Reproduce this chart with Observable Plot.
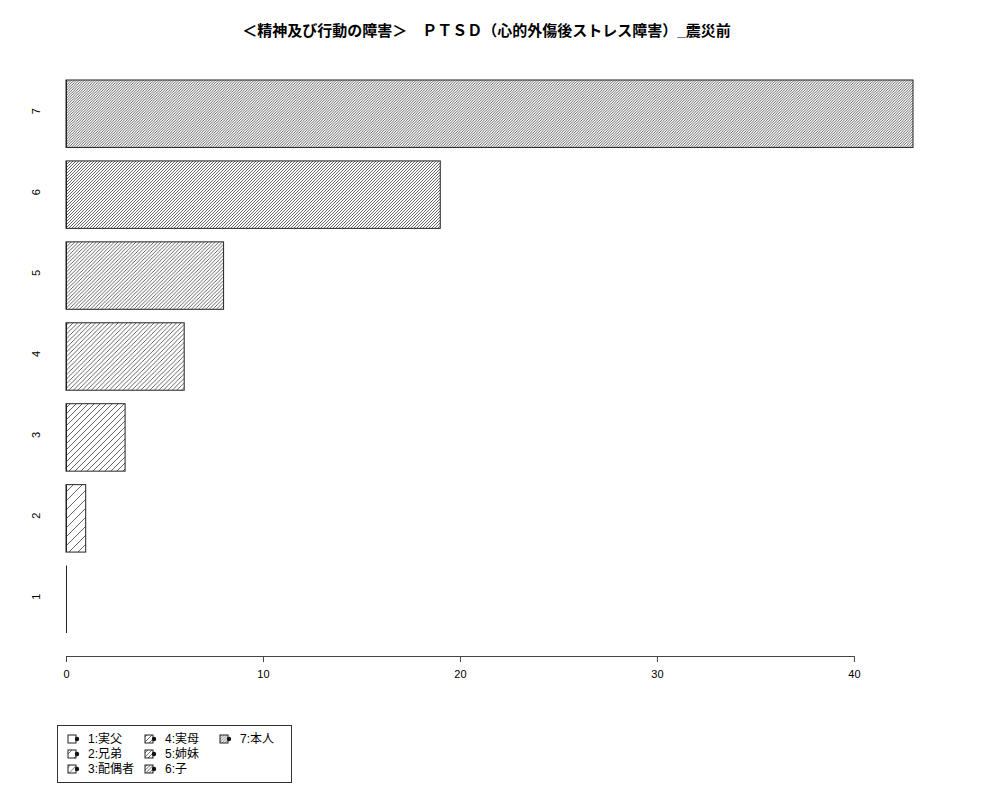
<!DOCTYPE html>
<html>
<head>
<meta charset="utf-8">
<script src="https://cdn.jsdelivr.net/npm/d3@7"></script>
<script src="https://cdn.jsdelivr.net/npm/@observablehq/plot@0.6"></script>
<style>
  body { margin: 0; background: #fff; font-family: "Liberation Sans", "Noto Sans CJK JP", sans-serif; }
  #wrap { position: relative; width: 1000px; height: 800px; }
  #title { position: absolute; top: 19px; left: 0; width: 973px; text-align: center; font-weight: bold; font-size: 15px; font-family: "Liberation Sans", "Noto Sans CJK JP", sans-serif; }
  #chart { position: absolute; top: 0; left: 0; }
  #legend { position: absolute; left: 57px; top: 725px; }
</style>
</head>
<body>
<div id="wrap">
  <div id="chart"></div>
  <div id="title"></div>
  <div id="legend"></div>
</div>
<script>
const titleText = "＜精神及び行動の障害＞　ＰＴＳＤ（心的外傷後ストレス障害）_震災前";
const categories = ["1", "2", "3", "4", "5", "6", "7"];
const values = [0, 1, 3, 6, 8, 19, 43];
const legendLabels = ["1:実父", "2:兄弟", "3:配偶者", "4:実母", "5:姉妹", "6:子", "7:本人"];
const xTicks = [0, 10, 20, 30, 40];
const densities = [1, 2, 3, 4, 5, 6, 7];

const data = categories.map((c, i) => ({cat: c, value: values[i], density: densities[i]}));

document.getElementById("title").textContent = titleText;

const font = "Liberation Sans, Noto Sans CJK JP, sans-serif";

const plot = Plot.plot({
  width: 1000,
  height: 700,
  marginLeft: 66,
  marginRight: 87,
  marginTop: 80,
  marginBottom: 44,
  style: {fontFamily: font, fontSize: "11px", background: "white"},
  x: {domain: [0, 43], axis: null},
  y: {domain: categories.slice().reverse(), range: [80, 633], paddingInner: 0.1667, paddingOuter: 0, round: false, axis: null},
  color: {type: "identity"},
  marks: [
    Plot.barX(data, {x: "value", y: "cat", fill: d => `url(#hatch${d.density})`, stroke: "#222", strokeWidth: 1}),
    Plot.tickX(data, {x: d => 0, y: "cat", stroke: "#222", strokeWidth: 1}),
    Plot.text(data, {y: "cat", text: "cat", frameAnchor: "left", dx: -30, rotate: -90, fontSize: 11, fill: "black"}),
    Plot.axisX({ticks: xTicks, tickSize: 6, tickPadding: 8, fontSize: 11, stroke: "#444", label: null, tickFormat: d => String(d)}),
    (index, scales, values, dimensions) => {
      const y = dimensions.height - dimensions.marginBottom + 0.5;
      const g = d3.create("svg:line")
        .attr("x1", scales.x(xTicks[0]))
        .attr("x2", scales.x(xTicks[xTicks.length - 1]))
        .attr("y1", y).attr("y2", y)
        .attr("stroke", "#444").attr("stroke-width", 1);
      return g.node();
    }
  ]
});

// hatch patterns (R density-style, 45 degree lines)
function addPatterns(svgSel, prefix, base, sw) {
  const defs = svgSel.insert("defs", ":first-child");
  densities.forEach(d => {
    const s = base / d;
    const p = defs.append("pattern")
      .attr("id", `${prefix}${d}`)
      .attr("patternUnits", "userSpaceOnUse")
      .attr("width", s).attr("height", s);
    p.append("rect").attr("width", s).attr("height", s).attr("fill", "white");
    p.append("path")
      .attr("d", `M0,${s} L${s},0 M${-s/2},${s/2} L${s/2},${-s/2} M${s/2},${s*1.5} L${s*1.5},${s/2}`)
      .attr("stroke", "#333").attr("stroke-width", sw);
  });
}
addPatterns(d3.select(plot), "hatch", 18, 0.75);
document.getElementById("chart").appendChild(plot);

// legend
const lg = d3.select("#legend").append("svg").attr("width", 236).attr("height", 59);
addPatterns(lg, "lhatch", 20, 0.7);
lg.append("rect").attr("x", 0.5).attr("y", 0.5).attr("width", 234).attr("height", 57)
  .attr("fill", "white").attr("stroke", "#333");
const colX = [11, 88, 163];
const rowY = [14, 29, 44];
legendLabels.forEach((lab, i) => {
  const col = Math.floor(i / 3), row = i % 3;
  const gx = colX[col], gy = rowY[row];
  lg.append("rect").attr("x", gx).attr("y", gy - 4).attr("width", 8).attr("height", 8)
    .attr("fill", `url(#lhatch${densities[i]})`).attr("stroke", "#222").attr("stroke-width", 1);
  lg.append("circle").attr("cx", gx + 9).attr("cy", gy).attr("r", 2.2).attr("fill", "#111");
  lg.append("text").attr("x", gx + 20).attr("y", gy).attr("dy", "0.35em")
    .attr("font-size", 12).attr("font-family", font).text(lab);
});
</script>
</body>
</html>
